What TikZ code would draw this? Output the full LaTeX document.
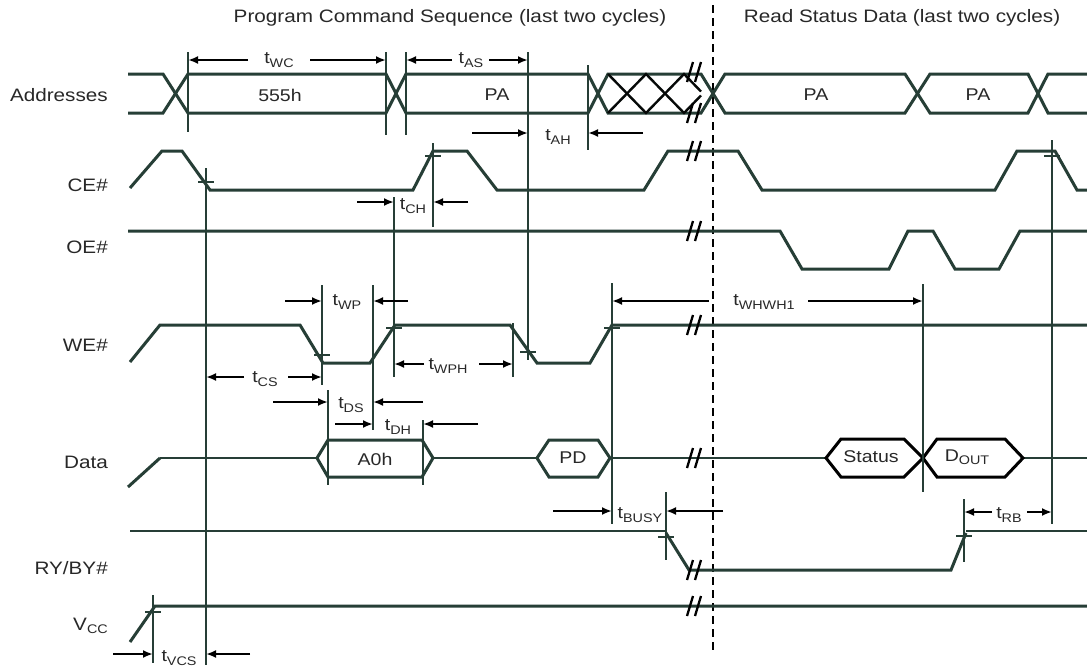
\documentclass[tikz,border=0pt]{standalone}
\usepackage{fontspec}
\setmainfont{Liberation Sans}[FakeStretch=1.15]
\usetikzlibrary{arrows.meta}
\definecolor{sig}{RGB}{38,62,54}
\definecolor{txt}{RGB}{40,40,40}
\newcommand\subs[1]{\raisebox{-0.35ex}{\fontsize{12.5}{13}\selectfont #1}}
\begin{document}
\begin{tikzpicture}[x=1pt,y=-1pt,
  sigline/.style={draw=sig,line width=3pt},
  thinsig/.style={draw=sig,line width=1.5pt},
  marker/.style={draw=sig,line width=1.5pt},
  boldmarker/.style={draw=sig,line width=2.6pt},
  dim/.style={draw=black,line width=2pt,-{Latex[length=10pt,width=8pt]}},
  hexs/.style={draw=black,line width=3pt},
  lbl/.style={text=txt,font=\fontsize{18}{18}\selectfont,inner sep=0pt},
  tlbl/.style={text=txt,font=\fontsize{17}{17}\selectfont,inner sep=0pt},
  breakmark/.pic={\draw[black,line width=2.3pt] (-7,10)--(-1,-10) (1,10)--(7,-10);},
  tick/.pic={\draw[sig,line width=2.4pt] (-8,0)--(8,0);}
]
\fill[white] (0,0) rectangle (1087,667);
\useasboundingbox (0,0) rectangle (1087,667);

% titles
\node[lbl] (title1) at (450,18) {Program Command Sequence (last two cycles)};
\node[lbl] (title2) at (902,18) {Read Status Data (last two cycles)};
\draw[black,line width=1.5pt,dash pattern=on 8pt off 5pt] (713,5) -- (713,653);

% signal names
\node[lbl,anchor=east] (nAddr) at (108,95) {Addresses};
\node[lbl,anchor=east] (nCE) at (108,185) {CE\#};
\node[lbl,anchor=east] (nOE) at (108,247) {OE\#};
\node[lbl,anchor=east] (nWE) at (108,345) {WE\#};
\node[lbl,anchor=east] (nData) at (108,462) {Data};
\node[lbl,anchor=east] (nRY) at (108,568) {RY/BY\#};
\node[lbl,anchor=east] (nVcc) at (108,626) {V\subs{CC}};

% Addresses
\draw[sigline] (128,74)--(163,74)--(188,113)--(386,113)--(406,74)--(588,74)--(608,113)--(701,113)--(725,74)--(905,74)--(930,113)--(1028,113)--(1048,74)--(1087,74);
\draw[sigline] (128,113)--(163,113)--(188,74)--(386,74)--(406,113)--(588,113)--(608,74)--(701,74)--(725,113)--(905,113)--(930,74)--(1028,74)--(1048,113)--(1087,113);
\draw[draw=black!85!sig,line width=2.4pt] (608,74)--(646,113)--(684,74)--(701,91.5);
\draw[draw=black!85!sig,line width=2.4pt] (608,113)--(646,74)--(684,113)--(701,95.5);
\node[tlbl] (b555) at (280,95) {555h};
\node[tlbl] (bPA1) at (497,95) {PA};
\node[tlbl] (bPA2) at (816,95) {PA};
\node[tlbl] (bPA3) at (978,95) {PA};

% CE#
\draw[sigline] (130,188)--(162,151)--(182,151)--(210,190)--(413,190)--(433,151)--(467,151)--(497,190)--(644,190)--(668,151)--(738,151)--(762,190)--(995,190)--(1017,151)--(1055,151)--(1077,190)--(1087,190);
% OE#
\draw[sigline] (128,231)--(780,231)--(802,269)--(889,269)--(908,231)--(933,231)--(955,269)--(999,269)--(1020,231)--(1087,231);
% WE#
\draw[sigline] (130,362)--(160,325)--(300,325)--(323,363)--(370,363)--(395,325)--(510,325)--(537,363)--(590,363)--(612,325)--(1087,325);
% Data
\draw[sigline] (128,487)--(160,458);
\draw[thinsig] (160,458)--(317,458) (433,458)--(537,458) (610,458)--(826,458) (1023,458)--(1087,458);
\draw[sigline] (317,458)--(328,440)--(422,440)--(433,458)--(422,477)--(328,477)--cycle;
\draw[sigline] (537,458)--(549,440)--(598,440)--(610,458)--(598,477)--(549,477)--cycle;
\draw[hexs] (826,458)--(841,439)--(904,439)--(923,458)--(904,477)--(841,477)--cycle;
\draw[hexs] (923,458)--(937,439)--(1005,439)--(1023,458)--(1005,477)--(937,477)--cycle;
\node[tlbl] (dA0h) at (375,459) {A0h};
\node[tlbl] (dPD) at (573,458) {PD};
\node[tlbl] (dSt) at (871,457) {Status};
\node[tlbl] (dOut) at (967,457) {D\subs{OUT}};
% RY/BY#
\draw[thinsig] (130,531)--(666,531) (966,531)--(1087,531);
\draw[sigline] (666,533)--(689,570)--(951,570)--(966,533);
% Vcc
\draw[sigline] (130,642)--(155,606)--(1087,606);

% break marks
\foreach \yy in {72,113,151,231,325,458,570,606}
  \pic at (694,\yy) {breakmark};

% marker lines
\draw[boldmarker] (188,52)--(188,132) (386,52)--(386,135) (406,52)--(406,135);
\draw[marker] (528,52)--(528,360) (588,65)--(588,150);
\draw[marker] (206,168)--(206,665);
\draw[boldmarker] (433,143)--(433,227) (394,197)--(394,377) (373,285)--(373,430);
\draw[marker,line width=2pt] (322,285)--(322,385);
\draw[marker] (328,390)--(328,485) (423,420)--(423,485) (513,323)--(513,377);
\draw[boldmarker] (612,283)--(612,524) (666,492)--(666,560) (964,499)--(964,562);
\draw[marker] (923,284)--(923,492) (1052,140)--(1052,524) (153,595)--(153,663);

% ticks
\foreach \p in {(206,182),(433,156),(322,355),(394,328),(528,352),(612,328),(666,537),(964,536),(1052,156),(153,612)}
  \pic at \p {tick};

% timing labels
\node[tlbl] (lWC) at (279,60) {t\subs{WC}};
\node[tlbl] (lAS) at (471,60) {t\subs{AS}};
\node[tlbl] (lAH) at (558,137) {t\subs{AH}};
\node[tlbl] (lCH) at (413,206) {t\subs{CH}};
\node[tlbl] (lWP) at (347,302) {t\subs{WP}};
\node[tlbl] (lWPH) at (448,366) {t\subs{WPH}};
\node[tlbl] (lCS) at (265,379) {t\subs{CS}};
\node[tlbl] (lDS) at (351,405) {t\subs{DS}};
\node[tlbl] (lDH) at (398,427) {t\subs{DH}};
\node[tlbl] (lWHWH) at (764,302) {t\subs{WHWH1}};
\node[tlbl] (lBUSY) at (640,515) {t\subs{BUSY}};
\node[tlbl] (lRB) at (1009,515) {t\subs{RB}};
\node[tlbl] (lVCS) at (179,658) {t\subs{VCS}};

% dimension arrows
\draw[dim] (248,60)--(188,60);   \draw[dim] (310,60)--(386,60);
\draw[dim] (452,60)--(406,60);   \draw[dim] (489,60)--(528,60);
\draw[dim] (472,133)--(528,133); \draw[dim] (643,133)--(588,133);
\draw[dim] (357,202)--(394,202); \draw[dim] (468,202)--(433,202);
\draw[dim] (285,301)--(322,301); \draw[dim] (408,301)--(373,301);
\draw[dim] (424,364)--(394,364); \draw[dim] (479,364)--(513,364);
\draw[dim] (244,377)--(206,377); \draw[dim] (288,377)--(322,377);
\draw[dim] (273,402)--(328,402); \draw[dim] (423,402)--(373,402);
\draw[dim] (335,424)--(373,424); \draw[dim] (478,424)--(423,424);
\draw[dim] (709,301)--(612,301); \draw[dim] (808,301)--(923,301);
\draw[dim] (553,511)--(612,511); \draw[dim] (723,511)--(666,511);
\draw[dim] (992,512)--(964,512); \draw[dim] (1027,512)--(1052,512);
\draw[dim] (113,654)--(153,654); \draw[dim] (250,654)--(206,654);
\end{tikzpicture}
\end{document}
